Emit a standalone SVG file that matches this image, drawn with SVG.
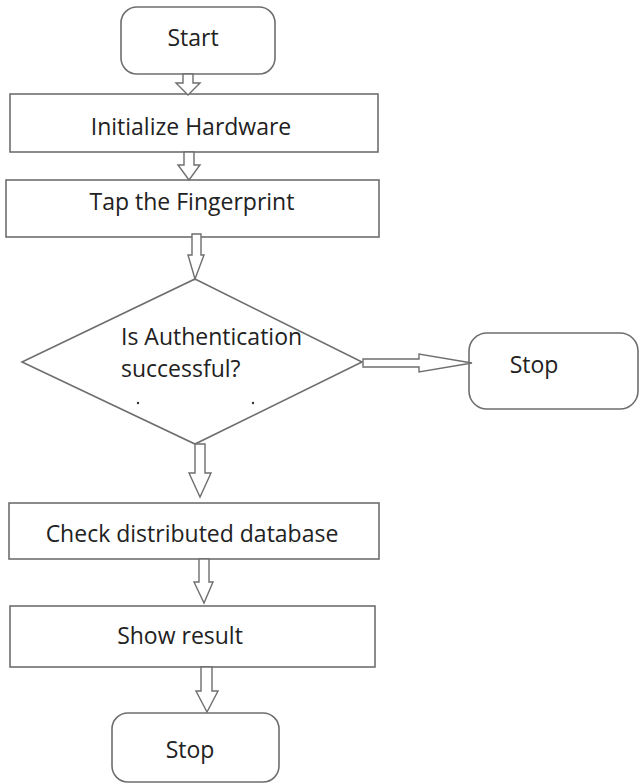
<svg xmlns="http://www.w3.org/2000/svg" width="641" height="784" viewBox="0 0 641 784">
<style>
.box{fill:#ffffff;stroke:#6e6e6e;stroke-width:1.6}
.arr{fill:#ffffff;stroke:#6e6e6e;stroke-width:1.4;stroke-linejoin:miter}
.t{font-family:"Open Sans","Liberation Sans",sans-serif;font-size:23px;fill:#222222}
.dot{fill:#333333}
</style>
<rect width="641" height="784" fill="#ffffff"/>
<g id="start">
<rect class="box" x="121" y="7" width="154" height="67" rx="16" ry="16"/>
<text class="t" x="193" y="46" text-anchor="middle">Start</text>
</g>
<g id="init">
<rect class="box" x="10" y="94" width="368" height="58"/>
<text class="t" x="191" y="135" text-anchor="middle">Initialize Hardware</text>
</g>
<g id="tap">
<rect class="box" x="6" y="180" width="373" height="57"/>
<text class="t" x="192" y="210" text-anchor="middle">Tap the Fingerprint</text>
</g>
<g id="decision">
<polygon class="box" points="195,279 362,362 195,444 22,362"/>
<text class="t" x="121" y="345">Is Authentication</text>
<text class="t" x="121" y="377">successful?</text>
<circle class="dot" cx="138" cy="403" r="1.2"/>
<circle class="dot" cx="253" cy="403" r="1.2"/>
</g>
<g id="stop-right">
<rect class="box" x="469" y="333" width="169" height="76" rx="18" ry="18"/>
<text class="t" x="534" y="373" text-anchor="middle">Stop</text>
</g>
<g id="check">
<rect class="box" x="9" y="503" width="370" height="56"/>
<text class="t" x="192" y="542" text-anchor="middle">Check distributed database</text>
</g>
<g id="show">
<rect class="box" x="10" y="606" width="365" height="61"/>
<text class="t" x="180" y="644" text-anchor="middle">Show result</text>
</g>
<g id="stop-bottom">
<rect class="box" x="112" y="713" width="167" height="69" rx="16" ry="16"/>
<text class="t" x="190" y="758" text-anchor="middle">Stop</text>
</g>
<g id="connectors">
<polygon class="arr" points="183,74 193,74 193,83 200,83 188,95 176,83 183,83"/>
<polygon class="arr" points="184,152 194,152 194,165 200,165 189,180 178,165 184,165"/>
<polygon class="arr" points="192,234 201,234 201,255 204,255 195,279 188,255 192,255"/>
<polygon class="arr" points="195,444 205,444 205,473 211,473 200,497 189,473 195,473"/>
<polygon class="arr" points="199,559 209,559 209,582 213,582 204,603 194,582 199,582"/>
<polygon class="arr" points="201,667 212,667 212,691 218,691 207,712 196,691 201,691"/>
<polygon class="arr" points="363,359 419,359 419,354 472,363 419,372 419,367 363,367"/>
</g>
</svg>
